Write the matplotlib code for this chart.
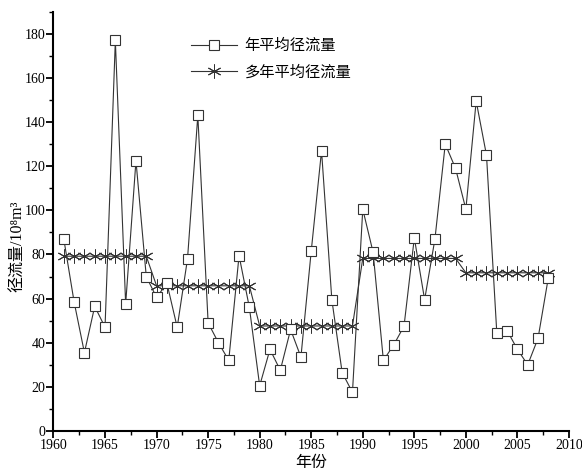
import matplotlib
matplotlib.use("Agg")
import matplotlib.pyplot as plt
from matplotlib.ticker import MultipleLocator

plt.rcParams['font.family'] = ['Liberation Serif', 'Noto Sans CJK SC', 'DejaVu Serif']

years = list(range(1961, 2009))
annual_runoff = [
    87, 58.5, 35.5, 56.5, 47, 177, 57.5, 122.5, 70,
    60.5, 67, 47, 78, 143, 49, 40, 32, 79.5, 56,
    20.5, 37, 27.5, 46, 33.5, 81.5, 127, 59.5, 26.5, 17.5,
    100.5, 81, 32, 39, 47.5, 87.5, 59.5, 87, 130, 119,
    100.5, 149.5, 125, 44.5, 45.5, 37, 30, 42, 69.5,
]
# decade means of the annual series
decade_bounds = [(1961, 1969), (1970, 1979), (1980, 1989), (1990, 1999), (2000, 2008)]
decade_means = [79.2, 65.8, 47.6, 78.2, 71.7]
multi_year_mean = []
for y in years:
    for (a, b), m in zip(decade_bounds, decade_means):
        if a <= y <= b:
            multi_year_mean.append(m)

label_annual = '年平均径流量'
label_mean = '多年平均径流量'

fig = plt.figure(figsize=(5.82, 4.74), dpi=100)
ax = fig.add_axes([0.0919, 0.0907, 0.8857, 0.8846])

line_color = '#333333'
ax.plot(years, multi_year_mean, color=line_color, lw=0.8,
        marker=(6, 2, 0), markersize=10, markeredgewidth=0.7,
        markeredgecolor=line_color, label=label_mean, zorder=2)
ax.plot(years, annual_runoff, color=line_color, lw=0.8,
        marker='s', markersize=7.5, markerfacecolor='white',
        markeredgecolor=line_color, markeredgewidth=0.8,
        label=label_annual, zorder=3)

ax.set_xlim(1960, 2010)
ax.set_ylim(0, 190)
ax.xaxis.set_major_locator(MultipleLocator(5))
ax.xaxis.set_minor_locator(MultipleLocator(2.5))
ax.yaxis.set_minor_locator(MultipleLocator(10))
ax.set_yticks([0, 20, 40, 60, 80, 100, 120, 140, 160, 180])

for s in ['top', 'right']:
    ax.spines[s].set_visible(False)
for s in ['left', 'bottom']:
    ax.spines[s].set_linewidth(1.5)

ax.tick_params(which='major', direction='out', length=5, width=1.3,
               labelsize=10, pad=1)
ax.tick_params(which='minor', direction='out', length=3, width=1.0)

ax.set_xlabel('年份', fontsize=11.5, labelpad=2)
ax.set_ylabel('径流量/10⁸m³', fontsize=11.5)
ax.yaxis.set_label_coords(-0.053, 0.44)

handles, labels = ax.get_legend_handles_labels()
leg = ax.legend(handles[::-1], labels[::-1], loc='upper left',
                bbox_to_anchor=(0.24, 0.968), frameon=False,
                fontsize=11, handlelength=3.0, handletextpad=0.5,
                labelspacing=0.75)

fig.savefig('out.png', dpi=100)
